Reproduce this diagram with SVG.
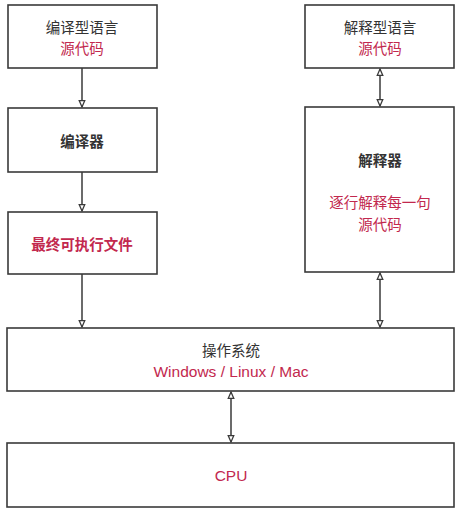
<svg xmlns="http://www.w3.org/2000/svg" width="469" height="518" viewBox="0 0 469 518">
<style>
.box{fill:#fff;stroke:#3a3a3a;stroke-width:1.6}
.t{font-family:"Liberation Sans","Noto Sans CJK SC",sans-serif;font-size:14.5px;text-anchor:middle;fill:#333}
.l{font-size:15.5px}
.b{font-weight:bold}
.r{fill:#c2284e}
.c{stroke:#3a3a3a;stroke-width:1.5;fill:none}
</style>
<defs>
<marker id="ah" viewBox="0 0 10 10" refX="9" refY="5" markerWidth="8" markerHeight="8" orient="auto-start-reverse" markerUnits="userSpaceOnUse">
<path d="M1,1.5 L9,5 L1,8.5 Z" fill="#fff" stroke="#3a3a3a" stroke-width="1.6"/>
</marker>
</defs>
<rect width="469" height="518" fill="#fff"/>
<g id="connectors">
<line class="c" x1="82" y1="68" x2="82" y2="107" marker-end="url(#ah)"/>
<line class="c" x1="82" y1="172" x2="82" y2="211" marker-end="url(#ah)"/>
<line class="c" x1="82" y1="274" x2="82" y2="327" marker-end="url(#ah)"/>
<line class="c" x1="380" y1="69" x2="380" y2="106" marker-start="url(#ah)" marker-end="url(#ah)"/>
<line class="c" x1="380" y1="273" x2="380" y2="327" marker-start="url(#ah)" marker-end="url(#ah)"/>
<line class="c" x1="231" y1="392" x2="231" y2="442" marker-start="url(#ah)" marker-end="url(#ah)"/>
</g>
<g id="compiled-lang">
<rect class="box" x="8" y="5" width="149" height="63"/>
<text class="t" x="82" y="33">编译型语言</text>
<text class="t r" x="82" y="54">源代码</text>
</g>
<g id="compiler">
<rect class="box" x="8" y="108" width="149" height="64"/>
<text class="t b" x="82" y="147">编译器</text>
</g>
<g id="executable">
<rect class="box" x="8" y="212" width="149" height="62"/>
<text class="t b r" x="82" y="250">最终可执行文件</text>
</g>
<g id="interpreted-lang">
<rect class="box" x="305" y="5" width="149" height="63"/>
<text class="t" x="380" y="33">解释型语言</text>
<text class="t r" x="380" y="54">源代码</text>
</g>
<g id="interpreter">
<rect class="box" x="305" y="107" width="149" height="165"/>
<text class="t b" x="380" y="166">解释器</text>
<text class="t r" x="380" y="208">逐行解释每一句</text>
<text class="t r" x="380" y="230">源代码</text>
</g>
<g id="os">
<rect class="box" x="7" y="328" width="447" height="63"/>
<text class="t" x="231" y="356">操作系统</text>
<text class="t r l" x="231" y="377">Windows / Linux / Mac</text>
</g>
<g id="cpu">
<rect class="box" x="7" y="443" width="447" height="64"/>
<text class="t r l" x="231" y="481">CPU</text>
</g>
</svg>
